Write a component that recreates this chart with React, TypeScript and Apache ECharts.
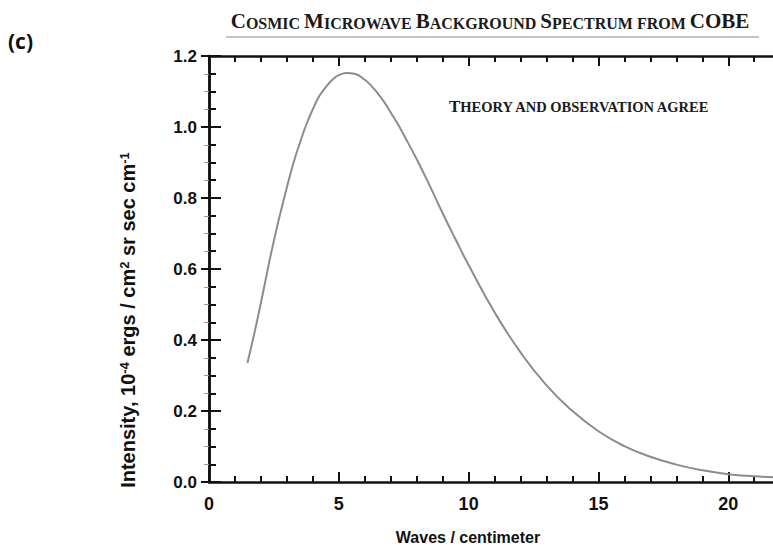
import React, { useEffect, useRef } from "react";
import * as echarts from "echarts";

// Wavenumber (waves / cm) and intensity (10^-4 ergs / cm^2 sr sec cm^-1)
const waveNumbers = [1.48, 1.75, 2.0, 2.5, 3.0, 3.25, 3.5, 3.75, 4.0, 4.25, 4.5, 4.75, 5.0, 5.3, 5.6, 6.0, 6.25, 6.5, 6.75, 7.0, 7.25, 7.5, 8.0, 8.5, 9.0, 9.5, 10, 11, 12, 13, 14, 15, 16, 17, 18, 19, 20, 21, 21.8];
const intensities = [0.335, 0.42, 0.505, 0.68, 0.83, 0.898, 0.955, 1.007, 1.05, 1.087, 1.112, 1.133, 1.146, 1.152, 1.15, 1.133, 1.116, 1.095, 1.07, 1.041, 1.011, 0.978, 0.909, 0.835, 0.757, 0.683, 0.611, 0.478, 0.365, 0.272, 0.2, 0.143, 0.101, 0.071, 0.049, 0.033, 0.022, 0.016, 0.013];

const yTicks = [0, 0.2, 0.4, 0.6, 0.8, 1.0, 1.2];
const xTickLabels = [0, 5, 10, 15, 20];

const chartTitle = "{a|C}{b|OSMIC} {a|M}{b|ICROWAVE} {a|B}{b|ACKGROUND} {a|S}{b|PECTRUM} {b|FROM} {a|COBE}";
const annotation = "{a|T}{b|HEORY AND OBSERVATION AGREE}";
const xName = "Waves / centimeter";
const yName = "{n|Intensity, 10}{s|-4}{n| ergs / cm}{s|2}{n| sr sec cm}{s|-1}";
const panelLabel = "(c)";

export default function App() {
  const ref = useRef<HTMLDivElement>(null);
  useEffect(() => {
    if (!ref.current) return;
    const chart = echarts.init(ref.current, null, { renderer: "svg" });
    const data = waveNumbers.map((x, i) => [x, intensities[i]]);
    const serif = '"Liberation Serif", "DejaVu Serif", serif';
    const sans = '"Liberation Sans", Arial, sans-serif';
    const tickStyle = { color: "#111", width: 2 };
    const xMax = 21.8;
    const xMajor = (position: string, labels: boolean) => ({
      type: "value",
      min: 0,
      max: xMax,
      interval: 5,
      position,
      axisLine: { show: true, lineStyle: { color: "#111", width: 2.5 } },
      axisTick: { show: true, inside: true, length: 10, lineStyle: tickStyle },
      splitLine: { show: false },
      axisLabel: {
        show: labels,
        margin: 13,
        color: "#111",
        fontFamily: sans,
        fontWeight: "bold",
        fontSize: 18,
        formatter: (v: number) => (xTickLabels.indexOf(v) >= 0 ? String(v) : ""),
      },
    });
    const xMinor = (position: string) => ({
      type: "value",
      min: 0,
      max: xMax,
      interval: 1,
      position,
      axisLine: { show: false },
      axisTick: { show: true, inside: true, length: 6, lineStyle: tickStyle },
      splitLine: { show: false },
      axisLabel: { show: false },
    });
    chart.setOption({
      animation: false,
      backgroundColor: "#fff",
      grid: { left: 209, top: 56, width: 566, height: 426, containLabel: false, outerBoundsMode: "none" },
      xAxis: [xMajor("bottom", true), xMinor("bottom"), xMajor("top", false), xMinor("top")],
      yAxis: [
        {
          type: "value",
          min: 0,
          max: 1.2,
          interval: 0.2,
          position: "left",
          axisLine: { show: true, lineStyle: { color: "#111", width: 2.5 } },
          axisTick: { show: true, inside: true, length: 12, lineStyle: tickStyle },
          minorTick: { show: true, splitNumber: 4, length: 7, lineStyle: tickStyle },
          splitLine: { show: false },
          axisLabel: {
            margin: 12,
            color: "#111",
            fontFamily: sans,
            fontWeight: "bold",
            fontSize: 17,
            formatter: (v: number) => {
              const f = yTicks.find((t) => Math.abs(t - v) < 1e-6);
              return f === undefined ? "" : f.toFixed(1);
            },
          },
        },
        {
          type: "value",
          min: 0,
          max: 1.2,
          interval: 0.2,
          position: "right",
          axisLine: { show: true, lineStyle: { color: "#111", width: 2.5 } },
          axisTick: { show: true, inside: true, length: 8, lineStyle: tickStyle },
          minorTick: { show: true, splitNumber: 4, length: 5, lineStyle: { color: "#999", width: 1 } },
          splitLine: { show: false },
          axisLabel: { show: false },
        },
      ],
      series: [
        {
          type: "line",
          data,
          smooth: true,
          showSymbol: false,
          symbol: "none",
          xAxisIndex: 0,
          yAxisIndex: 0,
          lineStyle: { color: "#8c8c8c", width: 2 },
        },
      ],
      graphic: [
        {
          type: "text",
          left: 8,
          top: 30,
          style: { text: panelLabel, font: 'bold 21px "Open Sans", sans-serif', fill: "#111" },
        },
        {
          type: "text",
          x: 490,
          y: 21,
          style: {
            text: chartTitle,
            textAlign: "center",
            textVerticalAlign: "middle",
            fontFamily: serif,
            fontWeight: "bold",
            fontSize: 16,
            fill: "#1a1a1a",
            rich: {
              a: { fontFamily: serif, fontWeight: "bold", fontSize: 21, fill: "#1a1a1a", verticalAlign: "bottom" },
              b: { fontFamily: serif, fontWeight: "bold", fontSize: 16, fill: "#1a1a1a", verticalAlign: "bottom" },
            },
          },
        },
        {
          type: "line",
          shape: { x1: 226, y1: 37, x2: 759, y2: 37 },
          style: { stroke: "#888", lineWidth: 1 },
        },
        {
          type: "text",
          x: 449,
          y: 106,
          style: {
            text: annotation,
            textAlign: "left",
            textVerticalAlign: "middle",
            fontFamily: serif,
            fontWeight: "bold",
            fontSize: 14.5,
            fill: "#1a1a1a",
            rich: {
              a: { fontFamily: serif, fontWeight: "bold", fontSize: 17, fill: "#1a1a1a", verticalAlign: "bottom" },
              b: { fontFamily: serif, fontWeight: "bold", fontSize: 14.5, fill: "#1a1a1a", verticalAlign: "bottom" },
            },
          },
        },
        {
          type: "text",
          x: 468,
          y: 537,
          style: {
            text: xName,
            textAlign: "center",
            textVerticalAlign: "middle",
            font: `bold 16px ${sans}`,
            fill: "#111",
          },
        },
        {
          type: "text",
          x: 128,
          y: 320,
          rotation: Math.PI / 2,
          style: {
            text: yName,
            textAlign: "center",
            textVerticalAlign: "middle",
            fontFamily: sans,
            fontWeight: "bold",
            fontSize: 20,
            fill: "#111",
            rich: {
              n: { fontFamily: sans, fontWeight: "bold", fontSize: 20, fill: "#111", verticalAlign: "bottom" },
              s: { fontFamily: sans, fontWeight: "bold", fontSize: 13, fill: "#111", verticalAlign: "top" },
            },
          },
        },
      ],
    });
    return () => chart.dispose();
  }, []);
  return (
    <div
      ref={ref}
      style={{ position: "fixed", left: 0, top: 0, width: 773, height: 547, background: "#fff" }}
    />
  );
}
